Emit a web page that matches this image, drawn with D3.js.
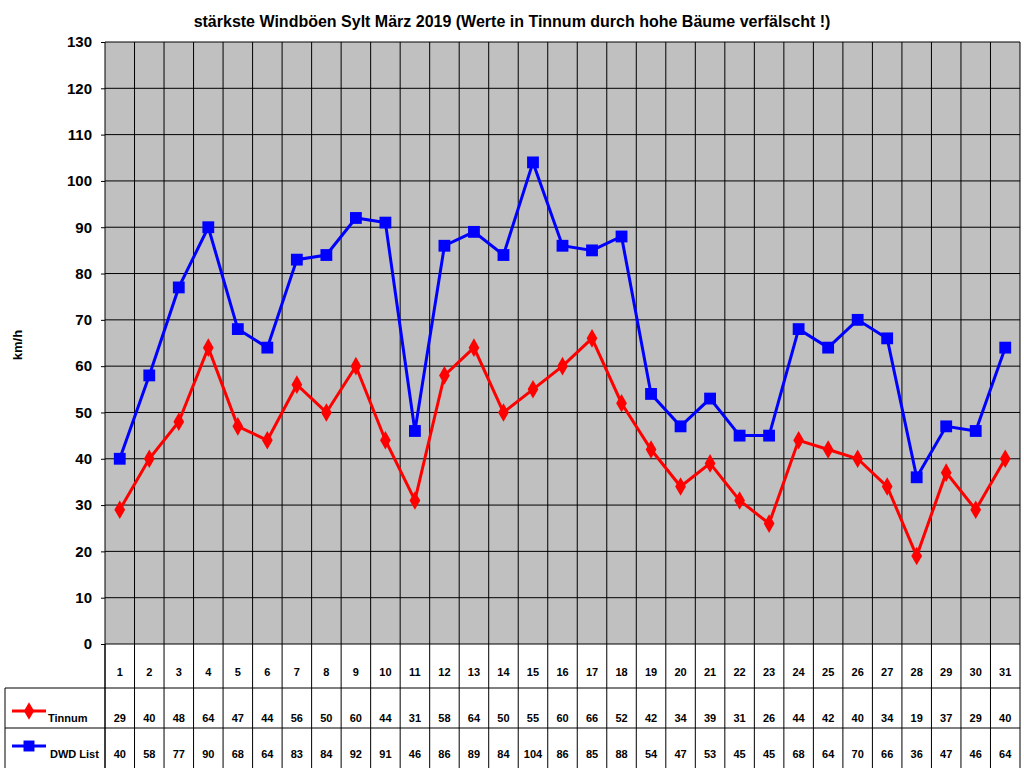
<!DOCTYPE html><html><head><meta charset="utf-8"><script src="https://cdn.jsdelivr.net/npm/d3@7"></script>
<style>body{margin:0;background:#fff}text{font-family:Arial,"Liberation Sans",sans-serif}</style></head><body>
<svg id="c" width="1024" height="768"></svg>
<script>
const days=d3.range(1,32).map(String);
const tinnum=[29,40,48,64,47,44,56,50,60,44,31,58,64,50,55,60,66,52,42,34,39,31,26,44,42,40,34,19,37,29,40];
const dwd=[40,58,77,90,68,64,83,84,92,91,46,86,89,84,104,86,85,88,54,47,53,45,45,68,64,70,66,36,47,46,64];
const yTicks=d3.range(0,131,10);
const series=[{name:"Tinnum",vals:tinnum,color:"#ff0000",shape:d3.symbolDiamond},{name:"DWD List",vals:dwd,color:"#0000ff",shape:d3.symbolSquare}];
const svg=d3.select("#c");
const L=105,R=1020,T=42,B=644;
const x=d3.scaleBand().domain(days).range([L,R]);
const y=d3.scaleLinear().domain([0,130]).range([B,T]);
svg.append("rect").attr("x",L).attr("y",T).attr("width",R-L).attr("height",B-T).attr("fill","#c0c0c0");
yTicks.forEach(t=>svg.append("line").attr("x1",L).attr("x2",R).attr("y1",y(t)).attr("y2",y(t)).attr("stroke","#000"));
days.forEach((d,i)=>svg.append("line").attr("x1",x(d)).attr("x2",x(d)).attr("y1",T).attr("y2",768).attr("stroke","#000"));
svg.append("line").attr("x1",R).attr("x2",R).attr("y1",T).attr("y2",768).attr("stroke","#000");
const ax=svg.append("g").attr("transform",`translate(${L},0)`).call(d3.axisLeft(y).tickValues(yTicks).tickSize(4).tickFormat(d3.format("d")));
ax.select(".domain").remove();
ax.selectAll("text").attr("font-size",15).attr("font-weight","bold").attr("dx",-6);
svg.append("text").attr("x",512).attr("y",27).attr("text-anchor","middle").attr("font-size",16).attr("font-weight","bold").text("stärkste Windböen Sylt März 2019 (Werte in Tinnum durch hohe Bäume verfälscht !)");
svg.append("text").attr("transform","translate(22,345) rotate(-90)").attr("text-anchor","middle").attr("font-size",13).attr("font-weight","bold").text("km/h");
// table
[688,728].forEach(yy=>svg.append("line").attr("x1",5).attr("x2",R).attr("y1",yy).attr("y2",yy).attr("stroke","#000"));
svg.append("line").attr("x1",5).attr("x2",5).attr("y1",688).attr("y2",768).attr("stroke","#000");
svg.append("line").attr("x1",L).attr("x2",L).attr("y1",B).attr("y2",768).attr("stroke","#000");
days.forEach(d=>svg.append("text").attr("x",x(d)+x.bandwidth()/2).attr("y",676).attr("text-anchor","middle").attr("font-size",11).attr("font-weight","bold").text(d));
const cx=d=>x(d)+x.bandwidth()/2;
series.forEach((s,si)=>{
  const ry=si?758:722;
  s.vals.forEach((v,i)=>svg.append("text").attr("x",cx(days[i])).attr("y",ry).attr("text-anchor","middle").attr("font-size",11).attr("font-weight","bold").text(v));
  svg.append("text").attr("x",si?50:48).attr("y",ry).attr("font-size",11).attr("font-weight","bold").text(s.name);
  const ly=si?746:711;
  svg.append("line").attr("x1",12).attr("x2",46).attr("y1",ly).attr("y2",ly).attr("stroke",s.color).attr("stroke-width",3);
  svg.append("path").attr("d",d3.symbol(s.shape,si?120:90)()).attr("transform",`translate(29,${ly})`).attr("fill",s.color);
  svg.append("path").datum(s.vals).attr("fill","none").attr("stroke",s.color).attr("stroke-width",3)
    .attr("d",d3.line().x((v,i)=>cx(days[i])).y(v=>y(v)));
  s.vals.forEach((v,i)=>svg.append("path").attr("d",d3.symbol(s.shape,si?140:100)()).attr("transform",`translate(${cx(days[i])},${y(v)})`).attr("fill",s.color));
});
</script></body></html>
